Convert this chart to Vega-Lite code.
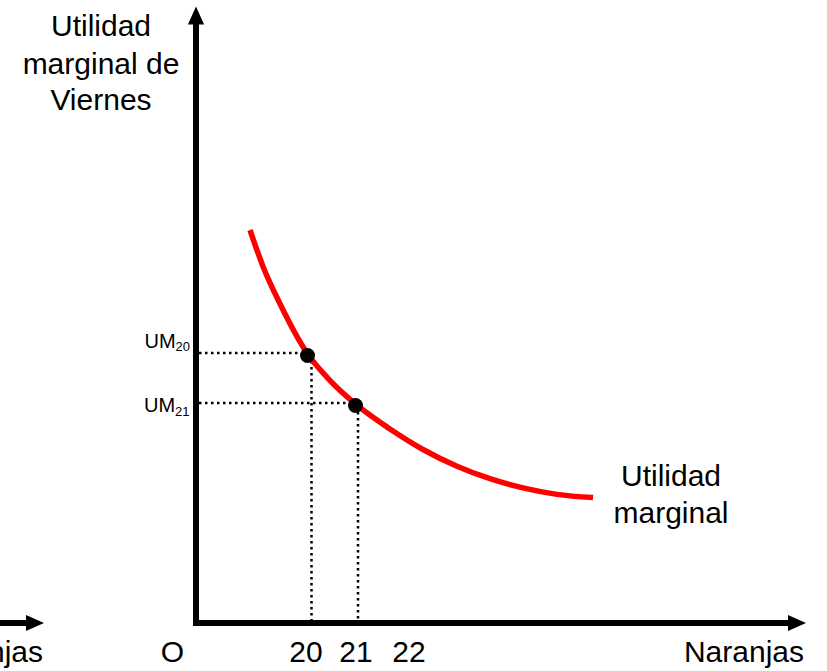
{
  "$schema": "https://vega.github.io/schema/vega-lite/v6.json",
  "width": 827,
  "height": 671,
  "autosize": {"type": "none"},
  "padding": 0,
  "background": "white",
  "config": {"view": {"stroke": null}, "font": "Liberation Sans"},
  "datasets": {
    "axes": [
      {"x": 0, "y": -0.3, "x2": 0, "y2": 59.9},
      {"x": -0.3, "y": 0, "x2": 59.5, "y2": 0},
      {"x": -19.8, "y": 0, "x2": -16.6, "y2": 0}
    ],
    "heads": [
      {"x": 0, "y": 60.75, "dir": "up"},
      {"x": 60.1, "y": 0, "dir": "right"},
      {"x": -16.1, "y": 0, "dir": "right"}
    ],
    "guides": [
      {"x": 0.3, "y": 27.0, "x2": 11.2, "y2": 27.0},
      {"x": 0.3, "y": 22.0, "x2": 16.0, "y2": 22.0},
      {"x": 11.55, "y": 26.8, "x2": 11.55, "y2": 0.3},
      {"x": 16.2, "y": 21.7, "x2": 16.2, "y2": 0.3}
    ],
    "curve": [
      {"x": 5.4, "y": 39.3},
      {"x": 6.7, "y": 35.66},
      {"x": 8.4, "y": 31.92},
      {"x": 11.2, "y": 26.85},
      {"x": 13.1, "y": 24.57},
      {"x": 16.1, "y": 21.78},
      {"x": 19.4, "y": 19.4},
      {"x": 22.7, "y": 17.35},
      {"x": 26.1, "y": 15.68},
      {"x": 29.4, "y": 14.43},
      {"x": 32.7, "y": 13.51},
      {"x": 36.1, "y": 12.86},
      {"x": 39.7, "y": 12.54}
    ],
    "dots": [
      {"x": 11.15, "y": 26.75},
      {"x": 15.95, "y": 21.75}
    ],
    "centerText": [
      {"t": "Utilidad", "x": -9.5, "y": 58.7},
      {"t": "marginal de", "x": -9.5, "y": 54.9},
      {"t": "Viernes", "x": -9.5, "y": 51.3},
      {"t": "O", "x": -2.35, "y": -3.9},
      {"t": "20", "x": 11.0, "y": -3.9},
      {"t": "21", "x": 16.0, "y": -3.9},
      {"t": "22", "x": 21.3, "y": -3.9},
      {"t": "Utilidad", "x": 47.5, "y": 13.7},
      {"t": "marginal", "x": 47.5, "y": 10.0}
    ],
    "rightText": [
      {"t": "Naranjas", "x": 60.8, "y": -3.9},
      {"t": "Naranjas", "x": -15.3, "y": -3.9}
    ],
    "umText": [
      {"t": "UM", "x": -5.15, "y": 27.5},
      {"t": "UM", "x": -5.2, "y": 21.1}
    ],
    "subText": [
      {"t": "20", "x": -2.05, "y": 27.2},
      {"t": "21", "x": -2.1, "y": 20.7}
    ]
  },
  "layer": [
    {
      "data": {"name": "guides"},
      "mark": {"type": "rule", "color": "black", "strokeWidth": 2.5, "strokeDash": [2.5, 3.5]},
      "encoding": {
        "x": {"field": "x", "type": "quantitative", "scale": {"domain": [-19.6, 63.1], "nice": false, "zero": false}, "axis": null},
        "y": {"field": "y", "type": "quantitative", "scale": {"domain": [-4.8, 62.3], "nice": false, "zero": false}, "axis": null},
        "x2": {"field": "x2"},
        "y2": {"field": "y2"}
      }
    },
    {
      "data": {"name": "axes"},
      "mark": {"type": "rule", "color": "black", "strokeWidth": 6, "clip": true},
      "encoding": {
        "x": {"field": "x", "type": "quantitative"},
        "y": {"field": "y", "type": "quantitative"},
        "x2": {"field": "x2"},
        "y2": {"field": "y2"}
      }
    },
    {
      "data": {"name": "heads"},
      "mark": {"type": "point", "filled": true, "color": "black", "opacity": 1, "size": 324, "strokeWidth": 0, "clip": true},
      "encoding": {
        "x": {"field": "x", "type": "quantitative"},
        "y": {"field": "y", "type": "quantitative"},
        "shape": {"field": "dir", "type": "nominal", "scale": {"domain": ["up", "right"], "range": ["M-0.9,1L0.9,1L0,-1Z", "M-1,-0.9L1,0L-1,0.9Z"]}, "legend": null}
      }
    },
    {
      "data": {"name": "curve"},
      "mark": {"type": "line", "color": "#ff0000", "strokeWidth": 5.5, "interpolate": "monotone"},
      "encoding": {
        "x": {"field": "x", "type": "quantitative"},
        "y": {"field": "y", "type": "quantitative"}
      }
    },
    {
      "data": {"name": "dots"},
      "mark": {"type": "point", "filled": true, "color": "black", "opacity": 1, "size": 225, "shape": "circle", "strokeWidth": 0},
      "encoding": {
        "x": {"field": "x", "type": "quantitative"},
        "y": {"field": "y", "type": "quantitative"}
      }
    },
    {
      "data": {"name": "centerText"},
      "mark": {"type": "text", "align": "center", "baseline": "alphabetic", "fontSize": 30, "color": "black", "font": "Liberation Sans"},
      "encoding": {
        "x": {"field": "x", "type": "quantitative"},
        "y": {"field": "y", "type": "quantitative"},
        "text": {"field": "t"}
      }
    },
    {
      "data": {"name": "rightText"},
      "mark": {"type": "text", "align": "right", "baseline": "alphabetic", "fontSize": 30, "color": "black", "font": "Liberation Sans", "clip": true},
      "encoding": {
        "x": {"field": "x", "type": "quantitative"},
        "y": {"field": "y", "type": "quantitative"},
        "text": {"field": "t"}
      }
    },
    {
      "data": {"name": "umText"},
      "mark": {"type": "text", "align": "left", "baseline": "alphabetic", "fontSize": 20, "color": "black", "font": "Liberation Sans"},
      "encoding": {
        "x": {"field": "x", "type": "quantitative"},
        "y": {"field": "y", "type": "quantitative"},
        "text": {"field": "t"}
      }
    },
    {
      "data": {"name": "subText"},
      "mark": {"type": "text", "align": "left", "baseline": "alphabetic", "fontSize": 13, "color": "black", "font": "Liberation Sans"},
      "encoding": {
        "x": {"field": "x", "type": "quantitative"},
        "y": {"field": "y", "type": "quantitative"},
        "text": {"field": "t"}
      }
    }
  ]
}
